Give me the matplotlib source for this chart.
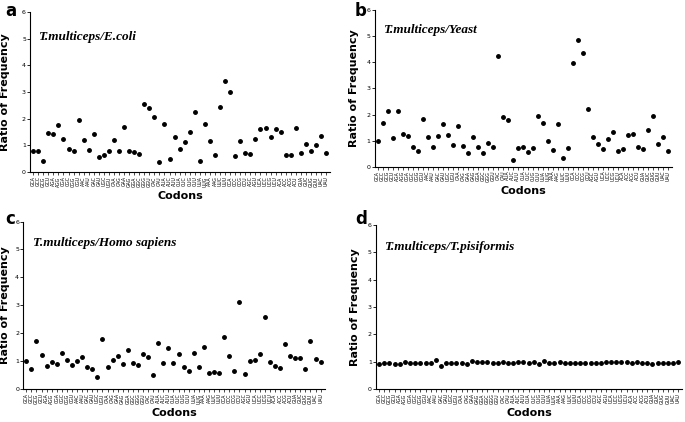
import matplotlib
matplotlib.use("Agg")
import matplotlib.pyplot as plt

# 59 synonymous codons, grouped by amino acid
codons = [
    "GCA", "GCC", "GCG", "GCU",
    "AGA", "AGG", "CGA", "CGC", "CGG", "CGU",
    "AAC", "AAU", "GAC", "GAU", "UGC", "UGU",
    "CAA", "CAG", "GAA", "GAG",
    "GGA", "GGC", "GGG", "GGU", "CAC", "CAU",
    "AUA", "AUC", "AUU",
    "CUA", "CUC", "CUG", "CUU", "UUA", "UUG",
    "AAA", "AAG", "UUC", "UUU",
    "CCA", "CCC", "CCG", "CCU",
    "AGC", "AGU", "UCA", "UCC", "UCG", "UCU",
    "ACA", "ACC", "ACG", "ACU",
    "GUA", "GUC", "GUG", "GUU", "UAC", "UAU",
]

ratio_ecoli = [
    0.78, 0.80, 0.40, 1.45, 1.43, 1.75, 1.25, 0.88, 0.78, 1.95,
    1.20, 0.83, 1.42, 0.57, 0.63, 0.78, 1.20, 0.80, 1.70, 0.80,
    0.75, 0.68, 2.55, 2.40, 2.05, 0.38, 1.82, 0.50, 1.32, 0.85,
    1.12, 1.52, 2.25, 0.40, 1.82, 1.18, 0.65, 2.43, 3.40, 3.00,
    0.60, 1.15, 0.70, 0.67, 1.25, 1.62, 1.67, 1.30, 1.63, 1.50,
    0.65, 0.65, 1.67, 0.72, 1.05, 0.80, 1.02, 1.35, 0.70,
]
ratio_yeast = [
    1.00, 1.66, 2.13, 1.10, 2.14, 1.24, 1.16, 0.77, 0.61, 1.84,
    1.14, 0.75, 1.19, 1.63, 1.21, 0.82, 1.57, 0.80, 0.52, 1.15,
    0.75, 0.54, 0.91, 0.74, 4.23, 1.89, 1.78, 0.27, 0.70, 0.75,
    0.57, 0.73, 1.95, 1.67, 1.00, 0.65, 1.65, 0.33, 0.73, 3.96,
    4.87, 4.36, 2.21, 1.12, 0.87, 0.69, 1.06, 1.34, 0.61, 0.69,
    1.20, 1.25, 0.77, 0.69, 1.40, 1.93, 0.87, 1.14, 0.61,
]
ratio_human = [
    1.00, 0.73, 1.73, 1.23, 0.82, 0.98, 0.91, 1.31, 1.03, 0.87,
    0.99, 1.14, 0.78, 0.71, 0.45, 1.80, 0.80, 1.03, 1.20, 0.89,
    1.40, 0.95, 0.86, 1.25, 1.14, 0.50, 1.65, 0.95, 1.48, 0.95,
    1.27, 0.79, 0.66, 1.28, 0.79, 1.50, 0.58, 0.62, 0.58, 1.87,
    1.18, 0.63, 3.12, 0.55, 1.00, 1.05, 1.27, 2.58, 0.98, 0.82,
    0.77, 1.61, 1.18, 1.13, 1.12, 0.72, 1.72, 1.07, 0.96,
]
ratio_pisiformis = [
    0.93, 0.97, 0.96, 0.92, 0.93, 0.98, 0.96, 0.96, 0.96, 0.96,
    0.96, 1.05, 0.85, 0.96, 0.97, 0.97, 0.97, 0.93, 1.01, 0.98,
    0.99, 0.99, 0.94, 0.97, 0.98, 0.97, 0.97, 1.00, 0.98, 0.96,
    0.99, 0.90, 1.03, 0.95, 0.95, 0.98, 0.95, 0.96, 0.96, 0.95,
    0.94, 0.96, 0.96, 0.96, 1.00, 0.98, 0.98, 0.98, 0.98, 0.97,
    0.98, 0.95, 0.95, 0.91, 0.97, 0.96, 0.96, 0.97, 0.99,
]

# letter, title, values, axes rect, ylabel x (axes frac), title pos, letter pos (fig frac)
panels = [
    ("a", "T.multiceps/E.coli", ratio_ecoli, [0.044, 0.592, 0.438, 0.380],
     -0.066, (0.027, 0.84), (0.008, 0.975)),
    ("b", "T.multiceps/Yeast", ratio_yeast, [0.547, 0.605, 0.434, 0.371],
     -0.052, (0.027, 0.87), (0.518, 0.975)),
    ("c", "T.multiceps/Homo sapiens", ratio_human, [0.034, 0.078, 0.440, 0.397],
     -0.044, (0.033, 0.87), (0.008, 0.482)),
    ("d", "T.multiceps/T.pisiformis", ratio_pisiformis, [0.549, 0.078, 0.447, 0.389],
     -0.052, (0.027, 0.865), (0.518, 0.482)),
]


def main():
    fig = plt.figure(figsize=(6.85, 4.22), dpi=100)
    x = list(range(len(codons)))
    for letter, title, vals, rect, ylx, tpos, lpos in panels:
        ax = fig.add_axes(rect)
        ax.plot(x, vals, "o", color="black", markersize=2.5, clip_on=False)
        ax.set_ylim(0, 6)
        ax.set_xlim(-0.6, len(codons) - 0.2)
        ax.set_yticks(range(7))
        ax.set_xticks(x)
        ax.set_xticklabels(codons, rotation=90, fontsize=3.3)
        ax.tick_params(axis="y", labelsize=4.5, length=2, width=0.6, pad=1)
        ax.tick_params(axis="x", length=2, width=0.5, pad=1)
        for s in ("top", "right"):
            ax.spines[s].set_visible(False)
        for s in ("left", "bottom"):
            ax.spines[s].set_linewidth(0.8)
        ax.set_ylabel("Ratio of Frequency", fontsize=8, fontweight="bold")
        ax.yaxis.set_label_coords(ylx, 0.5)
        ax.set_xlabel("Codons", fontsize=8, fontweight="bold", labelpad=3)
        ax.text(tpos[0], tpos[1], title, transform=ax.transAxes, fontsize=9.5,
                family="Liberation Serif", style="italic", fontweight="bold",
                va="center")
        fig.text(lpos[0], lpos[1], letter, fontsize=12, fontweight="bold", va="center")
    fig.savefig("out.png", dpi=100)
    plt.close(fig)


if __name__ == "__main__":
    main()
